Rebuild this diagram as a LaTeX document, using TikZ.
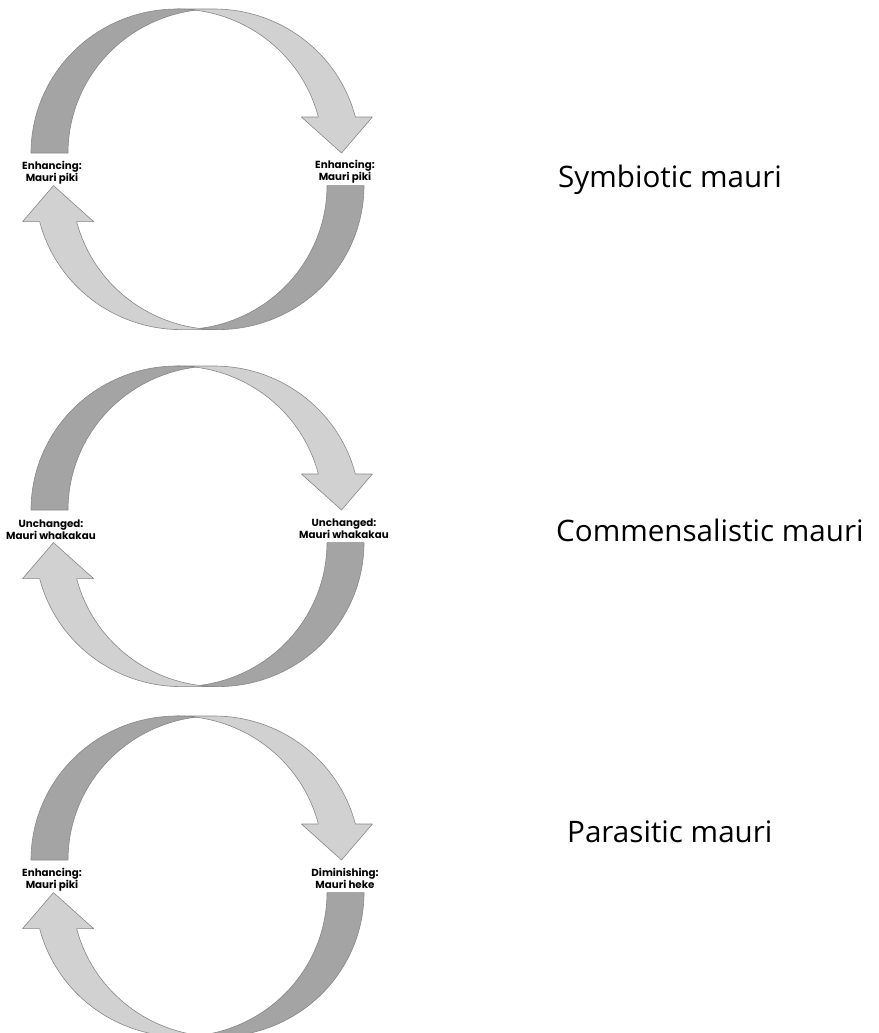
\documentclass[tikz,border=0pt]{standalone}
\usepackage{fontspec}
\newfontfamily\labfont{Poppins}
\newfontfamily\capfont{Open Sans}
\definecolor{bandDark}{HTML}{A4A4A4}
\definecolor{bandLight}{HTML}{D1D1D1}
\definecolor{bandEdge}{HTML}{888888}
\tikzset{
  backband/.style={fill=bandDark, draw=bandEdge, line width=0.6pt, line join=round},
  frontband/.style={fill=bandLight, draw=bandEdge, line width=0.6pt, line join=round},
  statelabel/.style={font={\labfont\bfseries\fontsize{10.3}{11.8}\selectfont}, align=center, inner sep=0pt},
  kindlabel/.style={font={\capfont\fontsize{29.6}{34}\selectfont}, anchor=base west, inner sep=0pt},
}
% One curved arrow built from two equal ellipses set 37 units apart:
% the dark back crescent lies inside the left ellipse only,
% the light front crescent inside the right one only, ending in a head.
\newcommand\halfloop{%
  \path[backband]
    plot[domain=180:82.72, samples=70] ({177+146*cos(\x)},{153-144*sin(\x)})
    -- plot[domain=97.28:180, samples=70] ({214+146*cos(\x)},{153-144*sin(\x)})
    -- cycle;
  \path[frontband] (341.5,153) -- (301.4,117) -- (318.4,117)
    -- plot[domain=14.48:90, samples=60] ({177+146*cos(\x)},{153-144*sin(\x)})
    -- plot[domain=90:14.48, samples=60] ({214+146*cos(\x)},{153-144*sin(\x)})
    -- (372.4,117) -- cycle;
}
% Full cycle: the arrow and its copy turned half a turn about the middle
\newcommand\fullloop{%
  \halfloop
  \begin{scope}[rotate around={180:(197.5,169.3)}]
    \halfloop
  \end{scope}
}
\begin{document}
\begin{tikzpicture}[x=1pt, y=-1pt]
  \useasboundingbox (0,0) rectangle (878,1033);

  % Symbiotic
  \begin{scope}
    \fullloop
    \node[statelabel] (symL) at (52,172.5) {Enhancing:\\Mauri piki};
    \node[statelabel] (symR) at (345,171.5) {Enhancing:\\Mauri piki};
  \end{scope}
  \node[kindlabel] (symT) at (558,187) {Symbiotic mauri};

  % Commensalistic
  \begin{scope}[shift={(0,357)}]
    \fullloop
    \node[statelabel] (comL) at (51,172.5) {Unchanged:\\Mauri whakakau};
    \node[statelabel] (comR) at (344,171.5) {Unchanged:\\Mauri whakakau};
  \end{scope}
  \node[kindlabel] (comT) at (556,541) {Commensalistic mauri};

  % Parasitic
  \begin{scope}[shift={(0,707)}]
    \fullloop
    \node[statelabel] (parL) at (52,172.5) {Enhancing:\\Mauri piki};
    \node[statelabel] (parR) at (345,171.5) {Diminishing:\\Mauri heke};
  \end{scope}
  \node[kindlabel] (parT) at (567,842) {Parasitic mauri};
\end{tikzpicture}
\end{document}
